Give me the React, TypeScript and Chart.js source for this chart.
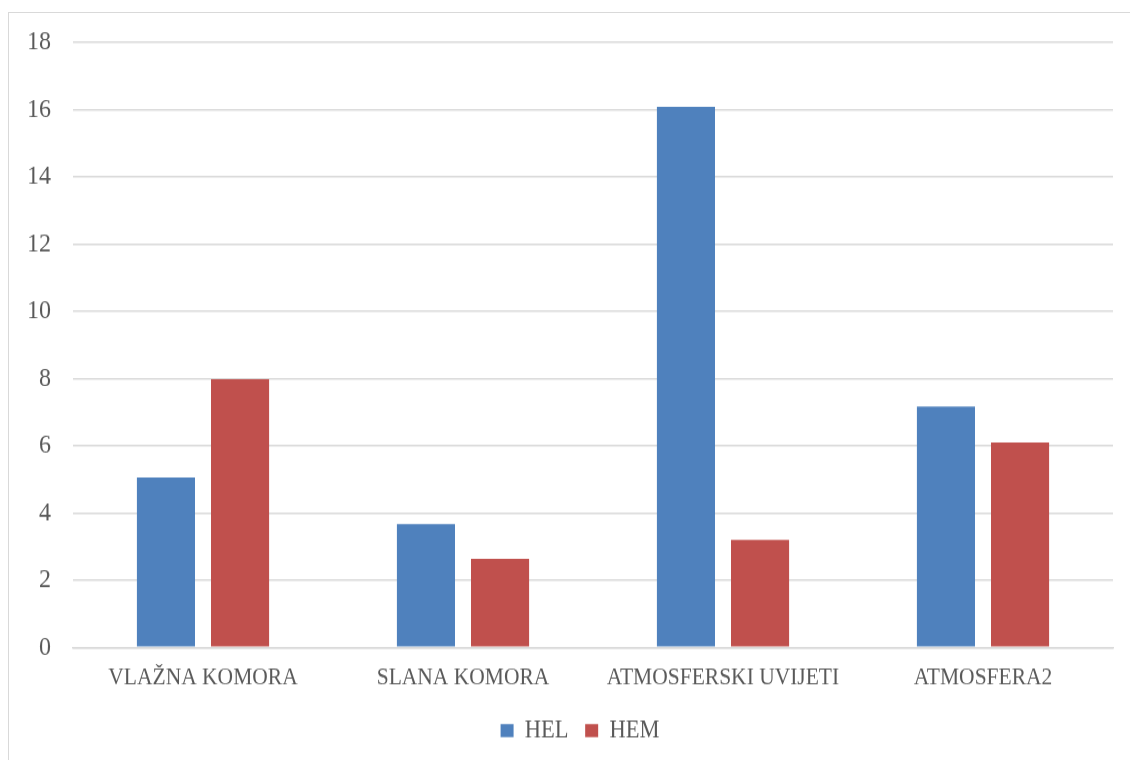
import React, { useEffect, useRef } from "react";
import { Chart, registerables } from "chart.js";

Chart.register(...registerables);

const categories = ["VLAŽNA KOMORA", "SLANA KOMORA", "ATMOSFERSKI UVIJETI", "ATMOSFERA2"];
const helValues = [5.05, 3.67, 16.08, 7.16];
const hemValues = [7.98, 2.63, 3.2, 6.1];
const seriesNames = ["HEL", "HEM"];

const FONT = "'Liberation Serif', 'DejaVu Serif', serif";
const TEXT = "#595959";
const GRID = "#d9d9d9";
const STRETCH = 1.13;
const CSS_W = 1121;
const CSS_H = 747;

const shiftLegend = {
  id: "shiftLegend",
  afterLayout(chart: any) {
    const lg = chart.legend;
    if (lg) {
      lg.left += 19;
      lg.right += 19;
    }
  },
};

export default function App() {
  const ref = useRef<HTMLCanvasElement | null>(null);
  useEffect(() => {
    document.body.style.overflow = "hidden";
    const ctx = ref.current!;
    const chart = new Chart(ctx, {
      type: "bar",
      data: {
        labels: categories,
        datasets: [
          { label: seriesNames[0], data: helValues, backgroundColor: "#4f81bd" },
          { label: seriesNames[1], data: hemValues, backgroundColor: "#c0504d" },
        ],
      },
      plugins: [shiftLegend],
      options: {
        animation: false,
        responsive: false,
        maintainAspectRatio: false,
        devicePixelRatio: 1,
        datasets: { bar: { categoryPercentage: 0.57, barPercentage: 0.784 } },
        layout: { padding: { left: 0, right: 17, top: 26, bottom: 4.8 } },
        plugins: {
          legend: {
            position: "bottom",
            labels: {
              font: { family: FONT, size: 22.5 },
              color: TEXT,
              boxWidth: 13,
              boxHeight: 11.5,
              padding: 16.6,
            },
          },
          tooltip: { enabled: false },
        },
        scales: {
          x: {
            grid: { display: false },
            border: { display: true, color: GRID, width: 1.5 },
            ticks: { font: { family: FONT, size: 21.5 }, color: TEXT, padding: 6, maxRotation: 0 },
          },
          y: {
            min: 0,
            max: 18,
            afterFit: (s: any) => { s.width = 64; },
            grid: { color: GRID, lineWidth: 1.5, drawTicks: true, tickLength: 20, tickColor: "rgba(0,0,0,0)" },
            border: { display: false },
            ticks: { stepSize: 2, font: { family: FONT, size: 24 }, color: TEXT, padding: 2 },
          },
        },
      },
    });
    return () => chart.destroy();
  }, []);
  return (
    <div
      style={{
        position: "absolute",
        left: 8,
        top: 12,
        width: 1130,
        height: 760,
        borderLeft: `1px solid ${GRID}`,
        borderTop: `1px solid ${GRID}`,
      }}
    >
      <canvas
        ref={ref}
        width={CSS_W}
        height={Math.round(CSS_H / STRETCH)}
        style={{ width: CSS_W, height: CSS_H, display: "block" }}
      />
    </div>
  );
}
